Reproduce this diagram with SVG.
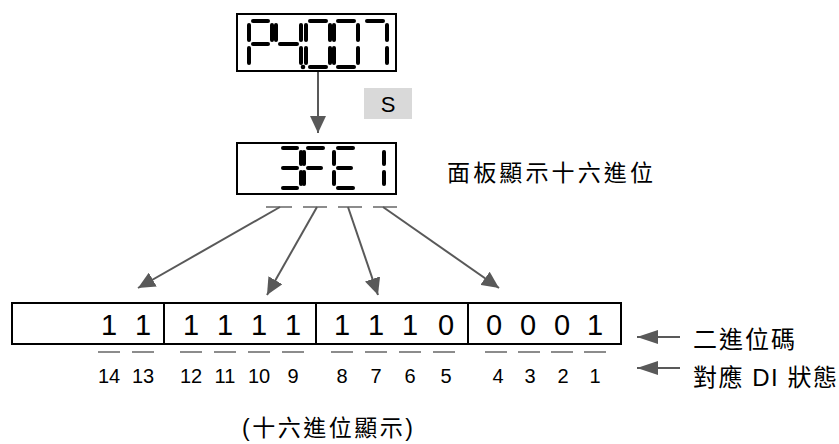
<svg xmlns="http://www.w3.org/2000/svg" width="839" height="444" viewBox="0 0 839 444">
<style>
.box{fill:#fff;stroke:#000;stroke-width:2}
.seg{stroke:#000;stroke-width:4;stroke-linecap:round;fill:none}
.dash{stroke:#8c8c8c;stroke-width:2}
.conn{stroke:#595959;stroke-width:2;fill:none}
.t{font-family:"Liberation Sans","Noto Sans CJK TC",sans-serif;fill:#000}
.bit{font-size:29px;text-anchor:middle}
.num{font-size:20px;text-anchor:middle}
</style>
<defs>
<marker id="ah" markerUnits="userSpaceOnUse" markerWidth="18" markerHeight="16" refX="17" refY="8" orient="auto">
<path d="M0,0 L17,8 L0,16 z" fill="#595959"/>
</marker>
<marker id="ahs" markerUnits="userSpaceOnUse" markerWidth="22" markerHeight="14" refX="21" refY="7" orient="auto">
<path d="M0,0 L21,7 L0,14 z" fill="#595959"/>
</marker>
</defs>

<g id="display-top">
<rect class="box" x="237" y="14" width="159" height="57"/>
<g class="seg">
<!-- P x249-272, y21-67 -->
<line x1="253" y1="21" x2="268" y2="21"/>
<line x1="249" y1="25" x2="249" y2="40"/>
<line x1="272" y1="25" x2="272" y2="40"/>
<line x1="253" y1="44" x2="268" y2="44"/>
<line x1="249" y1="48" x2="249" y2="63"/>
<!-- 4 x276-301 -->
<line x1="276" y1="25" x2="276" y2="40"/>
<line x1="280" y1="44" x2="297" y2="44"/>
<line x1="301" y1="25" x2="301" y2="40"/>
<line x1="301" y1="48" x2="301" y2="63"/>
<!-- 0 x306-330 -->
<line x1="310" y1="21" x2="326" y2="21"/>
<line x1="306" y1="25" x2="306" y2="40"/>
<line x1="330" y1="25" x2="330" y2="40"/>
<line x1="306" y1="48" x2="306" y2="63"/>
<line x1="330" y1="48" x2="330" y2="63"/>
<line x1="310" y1="67" x2="326" y2="67"/>
<!-- 0 x334-358 -->
<line x1="338" y1="21" x2="354" y2="21"/>
<line x1="334" y1="25" x2="334" y2="40"/>
<line x1="358" y1="25" x2="358" y2="40"/>
<line x1="334" y1="48" x2="334" y2="63"/>
<line x1="358" y1="48" x2="358" y2="63"/>
<line x1="338" y1="67" x2="354" y2="67"/>
<!-- 7 x363-387 -->
<line x1="367" y1="21" x2="383" y2="21"/>
<line x1="387" y1="25" x2="387" y2="40"/>
<line x1="387" y1="48" x2="387" y2="63"/>
</g>
<circle cx="303" cy="67" r="2.3" fill="#000"/>
</g>

<g id="key-s">
<rect x="364" y="88" width="48" height="31" fill="#d9d9d9"/>
<text class="t" x="388" y="112" font-size="22" text-anchor="middle">S</text>
</g>

<g id="display-hex">
<rect class="box" x="237" y="143" width="159" height="51"/>
<g class="seg">
<!-- 3 x279-301 y148-188 -->
<line x1="283" y1="148" x2="297" y2="148"/>
<line x1="301" y1="152" x2="301" y2="164"/>
<line x1="283" y1="168" x2="297" y2="168"/>
<line x1="301" y1="172" x2="301" y2="184"/>
<line x1="283" y1="188" x2="297" y2="188"/>
<!-- F x304-326 -->
<line x1="308" y1="148" x2="323" y2="148"/>
<line x1="304" y1="152" x2="304" y2="164"/>
<line x1="308" y1="168" x2="321" y2="168"/>
<line x1="304" y1="172" x2="304" y2="184"/>
<!-- E x334-356 -->
<line x1="338" y1="148" x2="353" y2="148"/>
<line x1="334" y1="152" x2="334" y2="164"/>
<line x1="338" y1="168" x2="351" y2="168"/>
<line x1="334" y1="172" x2="334" y2="184"/>
<line x1="338" y1="188" x2="353" y2="188"/>
<!-- 1 -->
<line x1="384" y1="152" x2="384" y2="164"/>
<line x1="384" y1="172" x2="384" y2="184"/>
</g>
<g class="dash">
<line x1="266" y1="207" x2="292" y2="207"/>
<line x1="303" y1="207" x2="327" y2="207"/>
<line x1="338" y1="207" x2="362" y2="207"/>
<line x1="373" y1="207" x2="397" y2="207"/>
</g>
</g>

<g id="label-panel">
<text class="t" x="447" y="181" font-size="23" textLength="206" lengthAdjust="spacing">面板顯示十六進位</text>
</g>

<g id="binary-register">
<rect class="box" x="12" y="303" width="609" height="41"/>
<line x1="164" y1="303" x2="164" y2="344" stroke="#000" stroke-width="2"/>
<line x1="316" y1="303" x2="316" y2="344" stroke="#000" stroke-width="2"/>
<line x1="468" y1="303" x2="468" y2="344" stroke="#000" stroke-width="2"/>
<g class="t bit">
<text x="109" y="335">1</text>
<text x="143" y="335">1</text>
<text x="191" y="335">1</text>
<text x="225" y="335">1</text>
<text x="259" y="335">1</text>
<text x="293" y="335">1</text>
<text x="342" y="335">1</text>
<text x="376" y="335">1</text>
<text x="410" y="335">1</text>
<text x="446" y="335">0</text>
<text x="494" y="335">0</text>
<text x="528" y="335">0</text>
<text x="562" y="335">0</text>
<text x="595" y="335">1</text>
</g>
<g class="dash">
<line x1="98" y1="352" x2="120" y2="352"/>
<line x1="132" y1="352" x2="154" y2="352"/>
<line x1="180" y1="352" x2="202" y2="352"/>
<line x1="214" y1="352" x2="236" y2="352"/>
<line x1="248" y1="352" x2="270" y2="352"/>
<line x1="282" y1="352" x2="304" y2="352"/>
<line x1="331" y1="352" x2="353" y2="352"/>
<line x1="365" y1="352" x2="387" y2="352"/>
<line x1="399" y1="352" x2="421" y2="352"/>
<line x1="433" y1="352" x2="455" y2="352"/>
<line x1="485" y1="352" x2="507" y2="352"/>
<line x1="518" y1="352" x2="540" y2="352"/>
<line x1="551" y1="352" x2="573" y2="352"/>
<line x1="584" y1="352" x2="606" y2="352"/>
</g>
<g class="t num">
<text x="109" y="383">14</text>
<text x="143" y="383">13</text>
<text x="191" y="383">12</text>
<text x="225" y="383">11</text>
<text x="259" y="383">10</text>
<text x="293" y="383">9</text>
<text x="342" y="383">8</text>
<text x="376" y="383">7</text>
<text x="410" y="383">6</text>
<text x="446" y="383">5</text>
<text x="498" y="383">4</text>
<text x="530" y="383">3</text>
<text x="563" y="383">2</text>
<text x="595" y="383">1</text>
</g>
</g>

<g id="label-binary">
<text class="t" x="693" y="348" font-size="24" textLength="102" lengthAdjust="spacing">二進位碼</text>
</g>
<g id="label-di">
<text class="t" x="693" y="386" font-size="24" textLength="144" lengthAdjust="spacing">對應 DI 狀態</text>
</g>
<g id="label-hex">
<text class="t" x="242" y="436" font-size="23" textLength="171" lengthAdjust="spacing">(十六進位顯示)</text>
</g>

<g id="connectors">
<line class="conn" x1="318" y1="72" x2="318" y2="133" marker-end="url(#ah)"/>
<line class="conn" x1="280" y1="207" x2="138" y2="288" marker-end="url(#ah)"/>
<line class="conn" x1="317" y1="207" x2="267" y2="295" marker-end="url(#ah)"/>
<line class="conn" x1="348" y1="207" x2="378" y2="295" marker-end="url(#ah)"/>
<line class="conn" x1="383" y1="207" x2="499" y2="288" marker-end="url(#ah)"/>
<line class="conn" x1="680" y1="337" x2="637" y2="337" marker-end="url(#ahs)"/>
<line class="conn" x1="680" y1="368" x2="637" y2="368" marker-end="url(#ahs)"/>
</g>
</svg>
